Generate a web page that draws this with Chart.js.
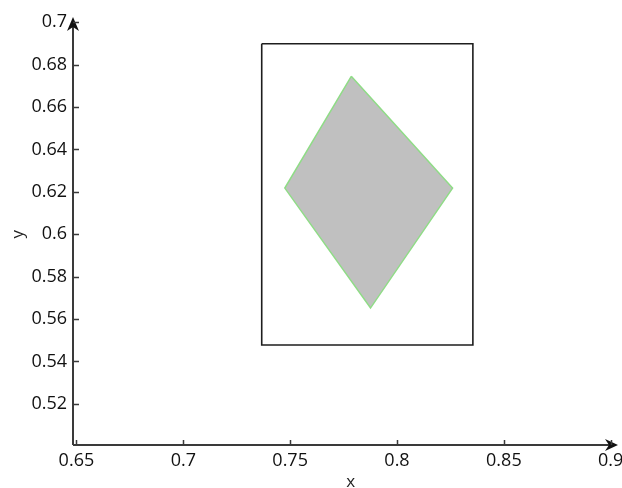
<!DOCTYPE html>
<html>
<head>
<meta charset="utf-8">
<script src="https://cdn.jsdelivr.net/npm/chart.js@4/dist/chart.umd.min.js"></script>
<style>
    html, body { margin: 0; padding: 0; background: #fff; }
    #wrap { width: 622px; height: 488px; }
</style>
</head>
<body>
<div id="wrap"><canvas id="chart" width="622" height="488"></canvas></div>
<script>
// Axis ticks
const xTicks = [0.65, 0.7, 0.75, 0.8, 0.85, 0.9];
const yTicks = [0.52, 0.54, 0.56, 0.58, 0.6, 0.62, 0.64, 0.66, 0.68, 0.7];

// Bounding rectangle (closed)
const rectX = [0.7367, 0.8355, 0.8355, 0.7367, 0.7367];
const rectY = [0.6899, 0.6899, 0.5478, 0.5478, 0.6899];

// Diamond (closed)
const diamondX = [0.7786, 0.826, 0.7876, 0.7475, 0.7786];
const diamondY = [0.6745, 0.6218, 0.5652, 0.6218, 0.6745];

const FONT = '"Open Sans", "Noto Sans", sans-serif';
const AXIS_COLOR = '#3a3a3a';

function toPoints(xs, ys) {
    return xs.map((x, i) => ({ x: x, y: ys[i] }));
}

// Draw axis lines with arrows, inward ticks and axis titles
const axesPlugin = {
    id: 'arrowAxes',
    afterDatasetsDraw(chart) {
        const ctx = chart.ctx;
        const area = chart.chartArea;
        const xs = chart.scales.x;
        const ys = chart.scales.y;
        const ox = area.left;
        const oy = area.bottom;

        ctx.save();
        ctx.strokeStyle = AXIS_COLOR;
        ctx.fillStyle = AXIS_COLOR;
        ctx.lineWidth = 2;

        // axis lines
        ctx.beginPath();
        ctx.moveTo(ox, oy);
        ctx.lineTo(area.right - 6, oy);
        ctx.moveTo(ox, oy);
        ctx.lineTo(ox, area.top + 6);
        ctx.stroke();

        // arrow heads
        ctx.fillStyle = '#111';
        ctx.beginPath();
        ctx.moveTo(area.right, oy);
        ctx.lineTo(area.right - 13, oy - 6);
        ctx.lineTo(area.right - 9, oy);
        ctx.lineTo(area.right - 13, oy + 6);
        ctx.closePath();
        ctx.fill();

        ctx.beginPath();
        ctx.moveTo(ox, area.top);
        ctx.lineTo(ox - 6, area.top + 14);
        ctx.lineTo(ox, area.top + 10);
        ctx.lineTo(ox + 6, area.top + 14);
        ctx.closePath();
        ctx.fill();

        // inward tick marks
        ctx.lineWidth = 1.5;
        ctx.beginPath();
        xTicks.forEach(v => {
            const px = Math.round(xs.getPixelForValue(v)) + 0.5;
            ctx.moveTo(px, oy);
            ctx.lineTo(px, oy - 5);
        });
        yTicks.forEach(v => {
            const py = Math.round(ys.getPixelForValue(v)) + 0.5;
            ctx.moveTo(ox, py);
            ctx.lineTo(ox + 6, py);
        });
        ctx.stroke();

        // axis titles
        ctx.fillStyle = '#222';
        ctx.font = '17px ' + FONT;
        ctx.textAlign = 'center';
        ctx.textBaseline = 'middle';
        ctx.fillText('x', (xs.getPixelForValue(0.65) + xs.getPixelForValue(0.9)) / 2 + 7, 482);

        ctx.save();
        ctx.translate(18, ys.getPixelForValue(0.6));
        ctx.rotate(-Math.PI / 2);
        ctx.fillText('y', 0, 0);
        ctx.restore();

        ctx.restore();
    }
};

function fmt(v) {
    return String(Number(v.toFixed(2)));
}

function drawChart() {
    new Chart(document.getElementById('chart'), {
        type: 'scatter',
        data: {
            datasets: [
                {
                    label: 'diamond',
                    data: toPoints(diamondX, diamondY),
                    showLine: true,
                    fill: 'shape',
                    backgroundColor: '#c0c0c0',
                    borderColor: '#8fdc86',
                    borderWidth: 1.5,
                    pointRadius: 0,
                    tension: 0
                },
                {
                    label: 'rectangle',
                    data: toPoints(rectX, rectY),
                    showLine: true,
                    fill: false,
                    borderColor: '#1e1e1e',
                    borderWidth: 1.6,
                    pointRadius: 0,
                    tension: 0
                }
            ]
        },
        options: {
            responsive: false,
            animation: false,
            events: [],
            layout: { padding: { top: 17, right: 4, left: 0, bottom: 0 } },
            plugins: {
                legend: { display: false },
                tooltip: { enabled: false }
            },
            scales: {
                x: {
                    type: 'linear',
                    min: 0.6484,
                    max: 0.9034,
                    grid: { display: false, drawTicks: false },
                    border: { display: false },
                    afterBuildTicks: s => { s.ticks = xTicks.map(v => ({ value: v })); },
                    afterFit: s => {
                        s.height = 43;
                        s.paddingLeft = 0; s.paddingRight = 0;
                        s.paddingTop = 0; s.paddingBottom = 0;
                    },
                    ticks: {
                        padding: 5,
                        maxRotation: 0,
                        autoSkip: false,
                        color: '#111',
                        font: { family: FONT, size: 18 },
                        callback: v => fmt(v)
                    }
                },
                y: {
                    type: 'linear',
                    min: 0.5006,
                    max: 0.7025,
                    grid: { display: false, drawTicks: false },
                    border: { display: false },
                    afterBuildTicks: s => { s.ticks = yTicks.map(v => ({ value: v })); },
                    afterFit: s => {
                        s.width = 73;
                        s.paddingLeft = 0; s.paddingRight = 0;
                        s.paddingTop = 0; s.paddingBottom = 0;
                    },
                    ticks: {
                        padding: 6,
                        autoSkip: false,
                        color: '#111',
                        font: { family: FONT, size: 18 },
                        callback: v => fmt(v)
                    }
                }
            }
        },
        plugins: [axesPlugin]
    });
}

// Wait for the installed font so the canvas text uses it
Promise.all([
    document.fonts.load('18px "Open Sans"'),
    document.fonts.load('17px "Open Sans"')
]).then(drawChart, drawChart);
</script>
</body>
</html>
